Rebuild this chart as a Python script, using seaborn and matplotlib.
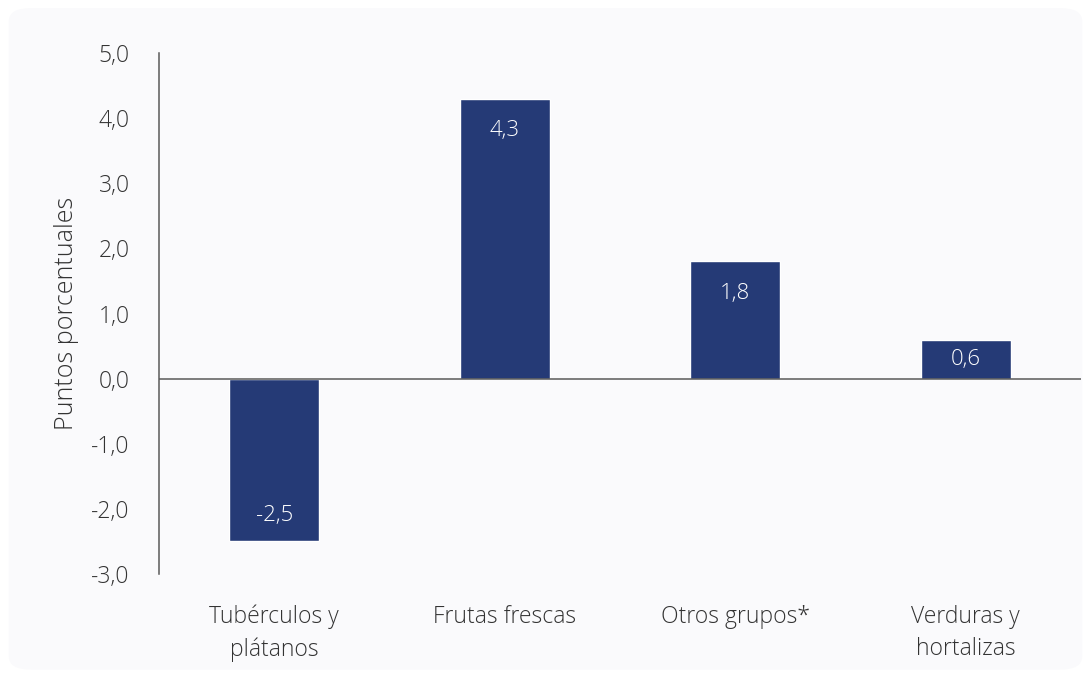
import matplotlib
matplotlib.use("Agg")
import matplotlib.pyplot as plt
from matplotlib.patches import FancyBboxPatch
import seaborn as sns
import pandas as pd

# Datos del gráfico
categorias = ["Tubérculos y\nplátanos", "Frutas frescas", "Otros grupos*", "Verduras y\nhortalizas"]
valores = [-2.5, 4.3, 1.8, 0.6]
yticks = [-3, -2, -1, 0, 1, 2, 3, 4, 5]

AZUL = "#253a76"
TEXTO = "#333333"
EJE = "#5a5a5a"

sns.set_style("white")
plt.rcParams["font.family"] = ["Open Sans", "DejaVu Sans"]
PESO = 300

df = pd.DataFrame({"categoria": categorias, "valor": valores})

fig = plt.figure(figsize=(10.91, 6.75), dpi=100, facecolor="white")
# tarjeta de fondo
card = FancyBboxPatch((0.008, 0.008), 0.984, 0.98, boxstyle="round,pad=0,rounding_size=0.02",
                      transform=fig.transFigure, facecolor="#fafafc", edgecolor="none", zorder=-10)
fig.patches.append(card)

ax = fig.add_axes([0.1457, 0.1496, 0.8451, 0.7719])
ax.set_facecolor("none")

sns.barplot(data=df, x="categoria", y="valor", color=AZUL, width=0.39,
            saturation=1, ax=ax, zorder=2)

ax.set_xlim(-0.5, 3.5)
ax.set_ylim(-3, 5)
ax.set_yticks(yticks)
ax.set_yticklabels([f"{t:.1f}".replace(".", ",") for t in yticks])
ax.tick_params(axis="y", length=0, pad=21, labelsize=16.5, labelcolor=TEXTO)
ax.tick_params(axis="x", length=0, pad=22, labelsize=16.5, labelcolor=TEXTO)
for lab in ax.get_xticklabels() + ax.get_yticklabels():
    lab.set_fontweight(PESO)
    lab.set_linespacing(1.45)

ax.set_xlabel("")
ax.set_ylabel("Puntos porcentuales", fontsize=18, color=TEXTO, fontweight=PESO, labelpad=9)

for s in ["top", "right", "bottom"]:
    ax.spines[s].set_visible(False)
ax.spines["left"].set_color(EJE)
ax.spines["left"].set_linewidth(1.1)
ax.axhline(0, color=EJE, lw=1.1, zorder=3)

# etiquetas de valor dentro de las barras
for i, v in enumerate(valores):
    txt = f"{v:.1f}".replace(".", ",")
    if abs(v) < 1:
        ax.text(i, v / 2, txt, ha="center", va="center", color="white",
                fontsize=16, fontweight=PESO, zorder=4)
    else:
        off = -23 if v > 0 else 19
        ax.annotate(txt, xy=(i, v), xytext=(0, off), textcoords="offset points",
                    ha="center", va="center", color="white", fontsize=16,
                    fontweight=PESO, zorder=4)

fig.savefig("out.png", dpi=100, facecolor=fig.get_facecolor())
